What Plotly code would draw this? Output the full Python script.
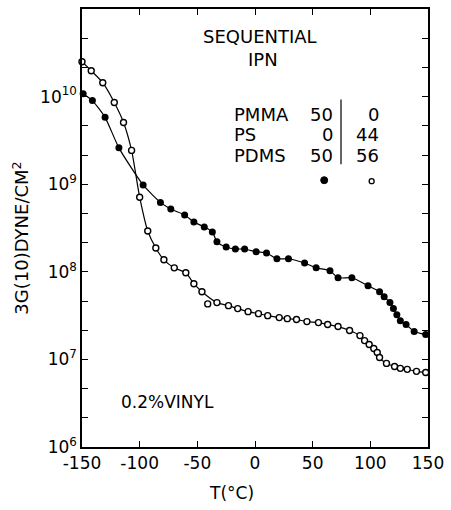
import plotly.graph_objects as go

# ---- data ----
filled_T = [-149, -141, -130, -118, -97, -82, -73, -61, -53, -44, -37, -33, -25, -17, -9, 1, 10, 19, 29,
            43, 53, 65, 72, 84, 98, 108, 112, 117, 120, 123, 126, 131, 138, 148]
filled_G = [1.08e10, 9.0e9, 5.8e9, 2.6e9, 9.8e8, 6.2e8, 5.2e8, 4.45e8, 3.7e8, 3.25e8, 2.85e8, 2.2e8,
            1.92e8, 1.82e8, 1.82e8, 1.69e8, 1.64e8, 1.41e8, 1.41e8, 1.26e8, 1.11e8, 1.03e8, 8.55e7,
            8.55e7, 6.93e7, 5.93e7, 5.2e7, 4.45e7, 3.8e7, 3.24e7, 2.77e7, 2.5e7, 2.08e7, 1.92e7]

open_T = [-150, -142, -132, -122, -114, -107, -100, -93, -86, -79, -70, -60, -53, -46, -33, -23, -15,
          -6, 3, 11, 21, 28, 36, 45, 55, 63, 72, 82, 91, 95, 99, 103, 106, 108, 114, 121, 126, 132,
          140, 148]
open_G = [2.5e10, 1.97e10, 1.44e10, 8.55e9, 5.07e9, 2.43e9, 7.1e8, 2.92e8, 1.87e8, 1.37e8, 1.11e8,
          9.75e7, 7.31e7, 5.93e7, 4.45e7, 4.11e7, 3.8e7, 3.51e7, 3.33e7, 3.16e7, 3.0e7, 2.92e7, 2.85e7,
          2.7e7, 2.63e7, 2.5e7, 2.37e7, 2.14e7, 1.87e7, 1.64e7, 1.48e7, 1.33e7, 1.2e7, 1.05e7, 9.0e6,
          8.3e6, 7.9e6, 7.7e6, 7.3e6, 7.1e6]

open_outlier_T = [-41]
open_outlier_G = [4.3e7]

x_ticks = [-150, -100, -50, 0, 50, 100, 150]
x_ticklabels = ["-150", "-100", "-50", "0", "50", "100", "150"]
y_decades = [6, 7, 8, 9, 10]

title_lines = ["SEQUENTIAL", "IPN"]
comp_names = ["PMMA", "PS", "PDMS"]
comp_a = ["50", "0", "50"]
comp_b = ["0", "44", "56"]
note_text = "0.2%VINYL"

FONT = "DejaVu Sans, Liberation Sans, Arial, sans-serif"
FS = 17

# ---- plot geometry (pixels) ----
W, H = 451, 510
L, R, T, B = 82, 432, 7, 447


def px(xp):
    return (xp - L) / (R - L)


def py(yp):
    return (B - yp) / (B - T)


fig = go.Figure()

fig.add_trace(go.Scatter(
    x=filled_T, y=filled_G, mode="lines+markers",
    line=dict(color="black", width=1.2, shape="spline", smoothing=0.6),
    marker=dict(symbol="circle", size=7, color="black"),
    cliponaxis=False, showlegend=False))

fig.add_trace(go.Scatter(
    x=open_T, y=open_G, mode="lines+markers",
    line=dict(color="black", width=1.2, shape="spline", smoothing=0.6),
    marker=dict(symbol="circle", size=6, color="white", line=dict(color="black", width=1.4)),
    cliponaxis=False, showlegend=False))

fig.add_trace(go.Scatter(
    x=open_outlier_T, y=open_outlier_G, mode="markers",
    marker=dict(symbol="circle", size=6, color="white", line=dict(color="black", width=1.4)),
    cliponaxis=False, showlegend=False))

# y ticks: decades labelled, 1/3-decade minor ticks
y_tickvals = [10 ** d for d in y_decades]
y_ticktext = [f"10<sup>{d}</sup>" for d in y_decades]
y_minorvals = [10 ** (d + k / 3) for d in y_decades for k in (1, 2)] + [10 ** 11]


def ann(xp, yp, text, xanchor="center", size=FS, **kw):
    return dict(x=px(xp), y=py(yp), xref="paper", yref="paper", text=text,
                xanchor=xanchor, yanchor="middle", showarrow=False,
                font=dict(size=size, family=FONT, color="black"), **kw)


annotations = []
annotations.append(ann(262, 35, title_lines[0], size=18))
annotations.append(ann(265, 58, title_lines[1], size=18))
row_y = [113, 133, 154]
for i in range(3):
    annotations.append(ann(234, row_y[i], comp_names[i], xanchor="left", size=18))
    annotations.append(ann(338, row_y[i], comp_a[i], xanchor="right", size=18))
    annotations.append(ann(384, row_y[i], comp_b[i], xanchor="right", size=18))

annotations.append(ann(119, 402, note_text, xanchor="left", size=17))
annotations.append(ann(20, 237, "3G(10)DYNE/CM<sup>2</sup>", size=18, textangle=-90))
annotations.append(ann(233, 493, "T(°C)", size=17))

shapes = [
    dict(type="line", xref="paper", yref="paper", x0=px(344), x1=px(344), y0=py(98), y1=py(163),
         line=dict(color="black", width=1.2)),
    dict(type="circle", xref="paper", yref="paper", xsizemode="pixel", ysizemode="pixel",
         xanchor=px(327), yanchor=py(179), x0=-3.5, x1=3.5, y0=-3.5, y1=3.5,
         fillcolor="black", line=dict(color="black", width=1)),
    dict(type="circle", xref="paper", yref="paper", xsizemode="pixel", ysizemode="pixel",
         xanchor=px(375), yanchor=py(180), x0=-2.5, x1=2.5, y0=-2.5, y1=2.5,
         fillcolor="white", line=dict(color="black", width=1.3)),
]

fig.update_layout(
    width=W, height=H,
    margin=dict(l=L, r=W - R, t=T, b=H - B),
    paper_bgcolor="white", plot_bgcolor="white",
    font=dict(family=FONT, size=FS, color="black"),
    annotations=annotations, shapes=shapes,
    showlegend=False,
)
fig.update_xaxes(range=[-150, 150], tickmode="array", tickvals=x_ticks, ticktext=x_ticklabels,
                 ticks="inside", ticklen=6, tickwidth=1.2, tickcolor="black",
                 showline=True, linecolor="black", linewidth=1.5, mirror="ticks",
                 showgrid=False, zeroline=False, tickfont=dict(size=FS, family=FONT))
fig.update_yaxes(type="log", range=[6, 11], tickmode="array", tickvals=y_tickvals, ticktext=y_ticktext,
                 ticks="inside", ticklen=6, tickwidth=1.2, tickcolor="black",
                 minor=dict(tickmode="array", tickvals=y_minorvals, ticks="inside", ticklen=6,
                            tickwidth=1.2, tickcolor="black", showgrid=False),
                 showline=True, linecolor="black", linewidth=1.5, mirror="ticks",
                 showgrid=False, zeroline=False, tickfont=dict(size=FS, family=FONT))

fig.write_html("out.html", config={"displayModeBar": False},
               post_script="document.body.style.margin='0px';")
